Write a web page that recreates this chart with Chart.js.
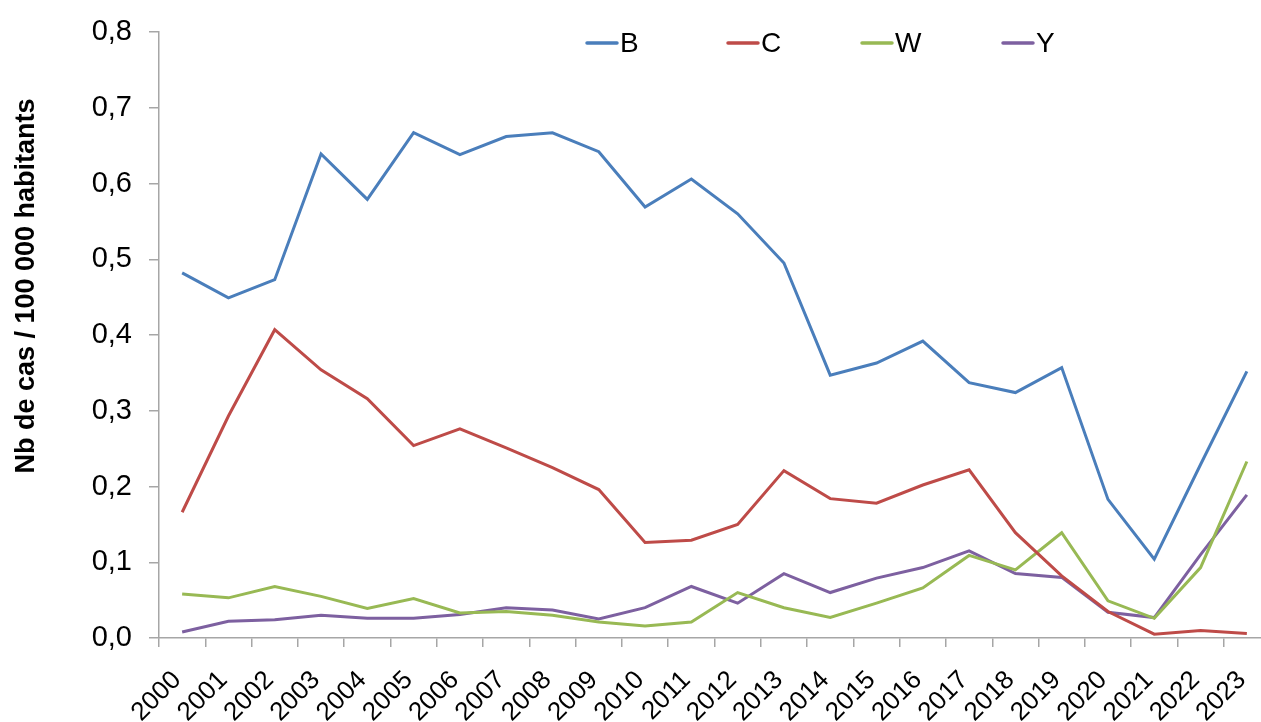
<!DOCTYPE html>
<html>
<head>
<meta charset="utf-8">
<script src="https://cdn.jsdelivr.net/npm/chart.js@4"></script>
<style>
  body { margin: 0; background: #fff; }
  #clip { width: 1261px; height: 722px; overflow: hidden; }
  #wrap { width: 1270px; height: 722px; position: relative; }
</style>
</head>
<body>
<div id="clip"><div id="wrap"><canvas id="graph"></canvas></div></div>
<script>
// values
var years = ["2000","2001","2002","2003","2004","2005","2006","2007","2008","2009","2010","2011",
             "2012","2013","2014","2015","2016","2017","2018","2019","2020","2021","2022","2023"];

var serieB = [0.482, 0.449, 0.473, 0.639, 0.579, 0.667, 0.638, 0.662, 0.667, 0.642, 0.569, 0.606,
              0.560, 0.495, 0.347, 0.363, 0.392, 0.337, 0.324, 0.357, 0.183, 0.104, 0.229, 0.352];
var serieC = [0.166, 0.293, 0.407, 0.354, 0.316, 0.254, 0.276, 0.251, 0.225, 0.196, 0.126, 0.129,
              0.150, 0.221, 0.184, 0.178, 0.202, 0.222, 0.139, 0.082, 0.035, 0.005, 0.010, 0.006];
var serieW = [0.058, 0.053, 0.068, 0.055, 0.039, 0.052, 0.033, 0.035, 0.030, 0.021, 0.016, 0.021,
              0.060, 0.040, 0.027, 0.046, 0.066, 0.109, 0.090, 0.139, 0.049, 0.026, 0.093, 0.233];
var serieY = [0.008, 0.022, 0.024, 0.030, 0.026, 0.026, 0.031, 0.040, 0.037, 0.025, 0.040, 0.068,
              0.046, 0.085, 0.060, 0.079, 0.093, 0.115, 0.085, 0.080, 0.034, 0.027, 0.110, 0.189];

var seriesNames = ["B", "C", "W", "Y"];
var seriesColors = ["#4a7ebb", "#be4b48", "#98b954", "#7d60a0"];
var yTitle = "Nb de cas / 100 000 habitants";

var FONT = "'Liberation Sans', Arial, sans-serif";
var axisGrey = "#a6a6a6";

function makeSet(i, values) {
	return {
		label: seriesNames[i],
		data: values,
		borderColor: seriesColors[i],
		backgroundColor: seriesColors[i],
		borderWidth: 3,
		pointRadius: 0,
		tension: 0,
		fill: false
	};
}

// legend + rotated y title drawn by hand (they sit inside / beside the plot like in Excel)
var extras = {
	id: "extras",
	afterDraw: function(chart) {
		var c = chart.ctx;
		var legendX = [586, 727, 861, 1002];
		c.save();
		c.font = "28px " + FONT;
		c.textBaseline = "middle";
		c.fillStyle = "#000";
		chart.data.datasets.forEach(function(ds, i) {
			c.strokeStyle = ds.borderColor;
			c.lineWidth = 3.5;
			c.lineCap = "round";
			c.beginPath();
			c.moveTo(legendX[i] + 1, 43);
			c.lineTo(legendX[i] + 31, 43);
			c.stroke();
			c.fillText(ds.label, legendX[i] + 34, 44);
		});
		c.translate(27, 286);
		c.rotate(-Math.PI / 2);
		c.font = "bold 27px " + FONT;
		c.textAlign = "center";
		c.fillText(yTitle, 0, 0);
		c.restore();
	}
};

var ctx = document.getElementById("graph").getContext("2d");

var chart = new Chart(ctx, {
	type: "line",
	data: {
		labels: years,
		datasets: [
			makeSet(0, serieB),
			makeSet(1, serieC),
			makeSet(2, serieW),
			makeSet(3, serieY)
		]
	},
	options: {
		responsive: true,
		maintainAspectRatio: false,
		animation: false,
		layout: { padding: { top: 32, right: 0, bottom: 0, left: 0 } },
		plugins: {
			legend: { display: false },
			tooltip: { enabled: false }
		},
		scales: {
			x: {
				offset: true,
				grid: {
					offset: true,
					drawOnChartArea: false,
					drawTicks: true,
					tickLength: 9,
					color: axisGrey,
					lineWidth: 1.5
				},
				border: { color: axisGrey, width: 1.5 },
				ticks: {
					color: "#000",
					font: { family: FONT, size: 26 },
					minRotation: 45,
					maxRotation: 45,
					autoSkip: false,
					padding: 18,
					labelOffset: -5
				},
				afterFit: function(s) {
					s.height = 84;
					s.paddingLeft = 0;
					s.paddingRight = 0;
				}
			},
			y: {
				min: 0,
				max: 0.8,
				grid: {
					drawOnChartArea: false,
					drawTicks: true,
					tickLength: 10,
					color: axisGrey,
					lineWidth: 1.5
				},
				border: { color: axisGrey, width: 1.5 },
				ticks: {
					stepSize: 0.1,
					color: "#000",
					padding: 17,
					font: { family: FONT, size: 29 },
					callback: function(v) { return v.toFixed(1).replace(".", ","); }
				},
				afterFit: function(s) {
					s.width = 159;
					s.paddingTop = 0;
					s.paddingBottom = 0;
				}
			}
		}
	},
	plugins: [extras]
});
</script>
</body>
</html>
